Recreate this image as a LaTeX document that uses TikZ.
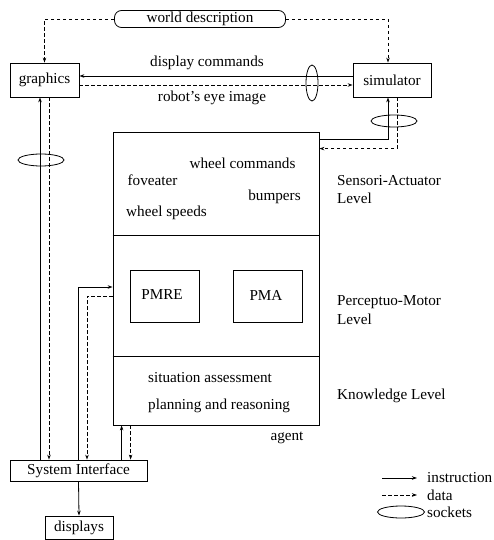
\documentclass[tikz,border=0pt]{standalone}
\usepackage{fontspec}
\setmainfont{Liberation Serif}
\usetikzlibrary{arrows.meta}
\usetikzlibrary{shapes}
\usetikzlibrary{calc}
\tikzstyle{BoxNode}=[rectangle, draw=black, line width=0.8pt, inner sep=0pt]
\tikzstyle{WorldNode}=[BoxNode, rounded corners=7pt]
\tikzstyle{SocketNode}=[ellipse, draw=black, line width=0.8pt, inner sep=0pt]
\tikzstyle{TextNode}=[inner sep=0pt]
\tikzstyle{InstrEdge}=[->, line width=0.8pt]
\tikzstyle{DataEdge}=[InstrEdge, dash pattern=on 3.5pt off 2.5pt]
\tikzset{>={Stealth[length=5pt,width=3.5pt]}}

\begin{document}
\begin{tikzpicture}[x=1pt,y=-1pt,font=\fontsize{15.2}{18.5}\selectfont]
\useasboundingbox (0,0) rectangle (493,540);

% boxes
\node[WorldNode, minimum width=171pt, minimum height=17pt](WORLD) at (200,19) {world description};
\node[BoxNode, minimum width=69pt, minimum height=34pt](GFX) at (44.5,80) {graphics};
\node[BoxNode, minimum width=78pt, minimum height=34pt](SIM) at (392,80) {simulator};
\node[BoxNode, minimum width=206pt, minimum height=293pt](AGENT) at (216,278.5) {};
\node[BoxNode, minimum width=69pt, minimum height=52pt](PMRE) at (164.5,296) {};
\node[BoxNode, minimum width=69pt, minimum height=52pt](PMA) at (267.5,296) {};
\node[BoxNode, minimum width=137pt, minimum height=21pt](SI) at (78.5,470.5) {System Interface};
\node[BoxNode, minimum width=68pt, minimum height=23pt](DISP) at (79,527.5) {displays};

% levels of the agent
\draw[line width=0.8pt] ([yshift=-104]AGENT.north west) -- ([yshift=-104]AGENT.north east);
\draw[line width=0.8pt] ([yshift=-225]AGENT.north west) -- ([yshift=-225]AGENT.north east);

% texts
\node[TextNode](DispCmd) at (207,63) {display commands};
\node[TextNode](EyeImg) at (212,98) {robot’s eye image};
\node[TextNode](WheelCmd) at (242.5,163) {wheel commands};
\node[TextNode](Fov) at (152.5,180) {foveater};
\node[TextNode](Bump) at (274.5,197) {bumpers};
\node[TextNode](WheelSpd) at (166.5,213) {wheel speeds};
\node[TextNode](PmreTxt) at (162,295) {PMRE};
\node[TextNode](PmaTxt) at (266,295) {PMA};
\node[TextNode, anchor=west](SitAss) at (148,378) {situation assessment};
\node[TextNode, anchor=west](Plan) at (148,406) {planning and reasoning};
\node[TextNode](AgentTxt) at (287,438) {agent};
\node[TextNode, anchor=west, align=left](SaLevel) at (337,189.5) {Sensori-Actuator\\Level};
\node[TextNode, anchor=west, align=left](PmLevel) at (337,310) {Perceptuo-Motor\\Level};
\node[TextNode, anchor=west](KnLevel) at (337,396) {Knowledge Level};

% sockets
\node[SocketNode, minimum width=12pt, minimum height=36pt](SockA) at (312,83) {};
\node[SocketNode, minimum width=46pt, minimum height=12pt](SockB) at (394,121) {};
\node[SocketNode, minimum width=46pt, minimum height=12pt](SockC) at (41,160) {};

% connections
\draw[DataEdge](WORLD.west) -| (GFX.north);
\draw[DataEdge](WORLD.east) -| ([xshift=-4]SIM.north);
\draw[InstrEdge]([yshift=4]SIM.west) -- ([yshift=4]GFX.east);
\draw[DataEdge]([yshift=-5]GFX.east) -- ([yshift=-5]SIM.west);
\draw[InstrEdge]([yshift=-8]AGENT.north east) -| ([xshift=-4]SIM.south);
\draw[DataEdge]([xshift=5]SIM.south) |- ([yshift=-17]AGENT.north east);

\coordinate (GfxL) at ([xshift=-4.5]GFX.south);
\coordinate (GfxR) at ([xshift=4.5]GFX.south);
\draw[InstrEdge](GfxL |- SI.north) -- (GfxL);
\draw[DataEdge](GfxR) -- (GfxR |- SI.north);

\coordinate (SiR) at ([xshift=8.5]SI.north);
\draw[InstrEdge](SI.north) |- ([yshift=-8.5]AGENT.west);
\draw[DataEdge]([yshift=-17.5]AGENT.west) -| (SiR);

\coordinate (AgL) at ([xshift=9]AGENT.south west);
\coordinate (AgR) at ([xshift=18]AGENT.south west);
\draw[InstrEdge](AgL |- SI.north) -- (AgL);
\draw[DataEdge](AgR) -- (AgR |- SI.north);

\draw[InstrEdge](SI.south) -- (DISP.north);

% legend
\coordinate (LegInA) at (382,478);
\coordinate (LegInB) at (417,478);
\coordinate (LegDaA) at (382,495);
\coordinate (LegDaB) at (417,495);
\draw[InstrEdge](LegInA) -- (LegInB);
\draw[DataEdge](LegDaA) -- (LegDaB);
\node[SocketNode, minimum width=47pt, minimum height=12pt](LegSock) at (401,512) {};
\node[TextNode, anchor=west](LegInstr) at (427,478) {instruction};
\node[TextNode, anchor=west](LegData) at (427,495) {data};
\node[TextNode, anchor=west](LegSockTxt) at (427,512) {sockets};
\end{tikzpicture}
\end{document}
